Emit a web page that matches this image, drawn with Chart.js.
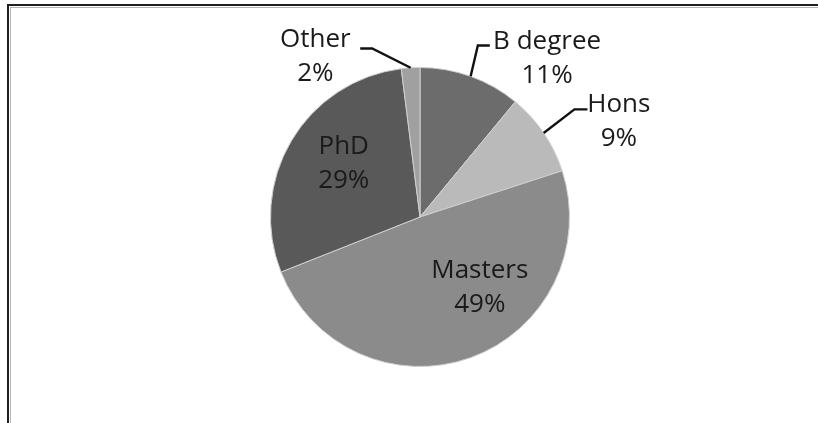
<!DOCTYPE html>
<html>
<head>
<meta charset="utf-8">
<script src="https://cdn.jsdelivr.net/npm/chart.js@4.4.1/dist/chart.umd.min.js"></script>
<style>
  html, body { margin: 0; padding: 0; background: #fff; }
  #wrap { position: relative; width: 818px; height: 423px; }
</style>
</head>
<body>
<div id="wrap"><canvas id="myChart" width="818" height="423"></canvas></div>
<script>
// qualification shares (percent)
const categories = ["B degree", "Hons", "Masters", "PhD", "Other"];
const shares = [11, 9, 49, 29, 2];
const sliceColors = ["#6c6c6c", "#bababa", "#8b8b8b", "#595959", "#a0a0a0"];

// where each label sits, in pie radius units from the centre
// leader: [elbow, end] points, also in radius units (null = label inside slice)
const labelSpots = [
  { x: 0.85, y: -1.06, leader: [[0.387, -1.147], [0.467, -1.147]] },
  { x: 1.33, y: -0.64, leader: [[1.033, -0.72], [1.12, -0.72]] },
  { x: 0.40, y: 0.47, leader: null },
  { x: -0.51, y: -0.36, leader: null },
  { x: -0.70, y: -1.07, leader: [[-0.32, -1.127], [-0.40, -1.127]] },
];

const framePlugin = {
  id: "frame",
  beforeDraw(chart) {
    const ctx = chart.ctx;
    ctx.save();
    ctx.fillStyle = "#fff";
    ctx.fillRect(0, 0, chart.width, chart.height);
    ctx.fillStyle = "#1e1e1e";
    ctx.fillRect(7, 4, chart.width - 7, 2);
    ctx.fillRect(7, 4, 2, chart.height - 4);
    ctx.fillStyle = "#b4b4b4";
    ctx.fillRect(10, 7, chart.width - 10, 1);
    ctx.fillRect(10, 7, 1, chart.height - 7);
    ctx.restore();
  }
};

const labelPlugin = {
  id: "sliceLabels",
  afterDatasetsDraw(chart) {
    const ctx = chart.ctx;
    const meta = chart.getDatasetMeta(0);
    ctx.save();
    meta.data.forEach((arc, i) => {
      const r = arc.outerRadius;
      const cx = arc.x, cy = arc.y;
      const spot = labelSpots[i];
      if (spot.leader) {
        const mid = (arc.startAngle + arc.endAngle) / 2;
        const ax = cx + Math.cos(mid) * r;
        const ay = cy + Math.sin(mid) * r;
        ctx.strokeStyle = "#111";
        ctx.lineWidth = 2.4;
        ctx.beginPath();
        ctx.moveTo(ax, ay);
        ctx.lineTo(cx + spot.leader[0][0] * r, cy + spot.leader[0][1] * r);
        ctx.lineTo(cx + spot.leader[1][0] * r, cy + spot.leader[1][1] * r);
        ctx.stroke();
      }
      const lx = cx + spot.x * r;
      const ly = cy + spot.y * r;
      ctx.fillStyle = "#1a1a1a";
      ctx.font = "26px 'Open Sans'";
      ctx.textAlign = "center";
      ctx.textBaseline = "middle";
      ctx.fillText(categories[i], lx, ly - 17);
      ctx.fillText(shares[i] + "%", lx, ly + 17);
    });
    ctx.restore();
  }
};

const myChart = new Chart("myChart", {
  type: "pie",
  data: {
    labels: categories,
    datasets: [
      {
        data: shares,
        backgroundColor: sliceColors,
        borderColor: "#d0d0d0",
        borderWidth: 1,
      },
    ],
  },
  options: {
    responsive: false,
    animation: false,
    layout: { padding: { top: 67, bottom: 56, left: 22, right: 0 } },
    plugins: {
      legend: { display: false },
      tooltip: { enabled: false },
    },
  },
  plugins: [framePlugin, labelPlugin],
});
</script>
</body>
</html>
